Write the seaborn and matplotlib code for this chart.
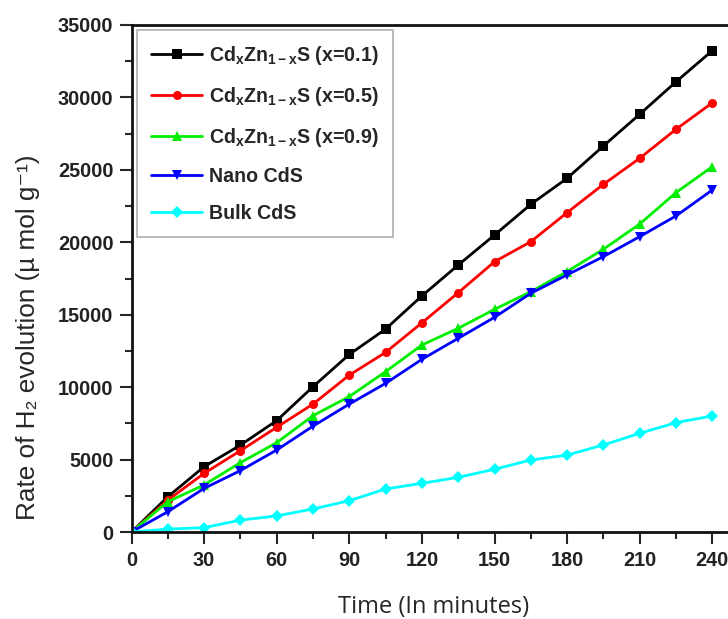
import numpy as np
import pandas as pd
import matplotlib
matplotlib.use("Agg")
import matplotlib.pyplot as plt
import seaborn as sns
from matplotlib.ticker import MultipleLocator

time_min = [0, 15, 30, 45, 60, 75, 90, 105, 120, 135, 150, 165, 180, 195, 210, 225, 240]
cd01 = [0, 2430, 4510, 6000, 7690, 10030, 12260, 14010, 16300, 18430, 20500, 22620, 24420, 26650, 28840, 31080, 33230]
cd05 = [0, 2200, 4050, 5610, 7230, 8830, 10830, 12400, 14440, 16520, 18660, 20040, 22050, 24000, 25800, 27800, 29630]
cd09 = [0, 2090, 3250, 4790, 6170, 8030, 9350, 11070, 12910, 14060, 15370, 16590, 17980, 19520, 21260, 23430, 25220]
nano = [0, 1400, 3010, 4240, 5660, 7310, 8830, 10260, 11920, 13370, 14820, 16480, 17750, 19010, 20390, 21820, 23610]
bulk = [0, 200, 300, 820, 1110, 1590, 2160, 2970, 3360, 3770, 4330, 4970, 5310, 6010, 6810, 7550, 8010]

labels = [r"Cd$_\mathrm{x}$Zn$_\mathrm{1-x}$S (x=0.1)",
          r"Cd$_\mathrm{x}$Zn$_\mathrm{1-x}$S (x=0.5)",
          r"Cd$_\mathrm{x}$Zn$_\mathrm{1-x}$S (x=0.9)",
          "Nano CdS", "Bulk CdS"]
colors = ["#000000", "#ff0000", "#00ee00", "#0000ff", "#00ffff"]
markers = ["s", "o", "^", "v", "D"]
x_ticks = [0, 30, 60, 90, 120, 150, 180, 210, 240]
y_ticks = [0, 5000, 10000, 15000, 20000, 25000, 30000, 35000]

series = [cd01, cd05, cd09, nano, bulk]
df = pd.concat([pd.DataFrame({"t": time_min, "v": s, "sample": lab})
                for s, lab in zip(series, labels)], ignore_index=True)

sns.set_theme(style="ticks")
plt.rcParams["font.family"] = ["Liberation Sans", "DejaVu Sans"]
plt.rcParams["mathtext.fontset"] = "custom"
plt.rcParams["mathtext.rm"] = "Liberation Sans:bold"
plt.rcParams["mathtext.it"] = "Liberation Sans:bold:italic"
plt.rcParams["mathtext.bf"] = "Liberation Sans:bold"

fig = plt.figure(figsize=(7.28, 6.19), dpi=100)
ax = fig.add_axes([131.5 / 728, 1 - 532 / 619, 605 / 728, 507 / 619])

sns.lineplot(data=df, x="t", y="v", hue="sample", style="sample",
             palette=colors, markers=markers, dashes=False,
             linewidth=2.0, markersize=6.5, markeredgewidth=0,
             ax=ax, legend=True)

ax.set_xlim(0, 250)
ax.set_ylim(0, 35000)
ax.set_xticks(x_ticks)
ax.set_yticks(y_ticks)
ax.xaxis.set_minor_locator(MultipleLocator(15))
ax.yaxis.set_minor_locator(MultipleLocator(2500))
ax.tick_params(which="major", direction="out", length=8.5, width=1.5)
ax.tick_params(which="minor", direction="out", length=5, width=1.5)
ax.tick_params(axis="x", which="major", pad=5)
ax.tick_params(axis="y", which="major", pad=4.5)
for lab in ax.get_xticklabels() + ax.get_yticklabels():
    lab.set_fontweight("bold")
    lab.set_fontsize(14.3)
    lab.set_color("#222222")
for sp in ax.spines.values():
    sp.set_linewidth(2.0)
    sp.set_color("#111111")

ax.set_xlabel("Time (In minutes)", fontsize=17, family=["Open Sans", "DejaVu Sans"],
              labelpad=18)
ax.set_ylabel("Rate of H\u2082 evolution (\u00b5 mol g\u207b\u00b9)", fontsize=18.8,
              family=["Liberation Sans", "DejaVu Sans"])
ax.yaxis.set_label_coords(-0.152, 0.385)

handles, _ = ax.get_legend_handles_labels()
leg = ax.legend(handles=handles, labels=labels, loc="upper left",
                bbox_to_anchor=(0.009, 0.99), borderaxespad=0,
                frameon=True, fancybox=False, edgecolor="#999999",
                prop={"weight": "bold", "size": 14.1}, handlelength=2.6,
                handletextpad=0.35, labelspacing=0.92, borderpad=0.72)
leg.get_frame().set_linewidth(1.2)

fig.savefig("out.png", dpi=100)
